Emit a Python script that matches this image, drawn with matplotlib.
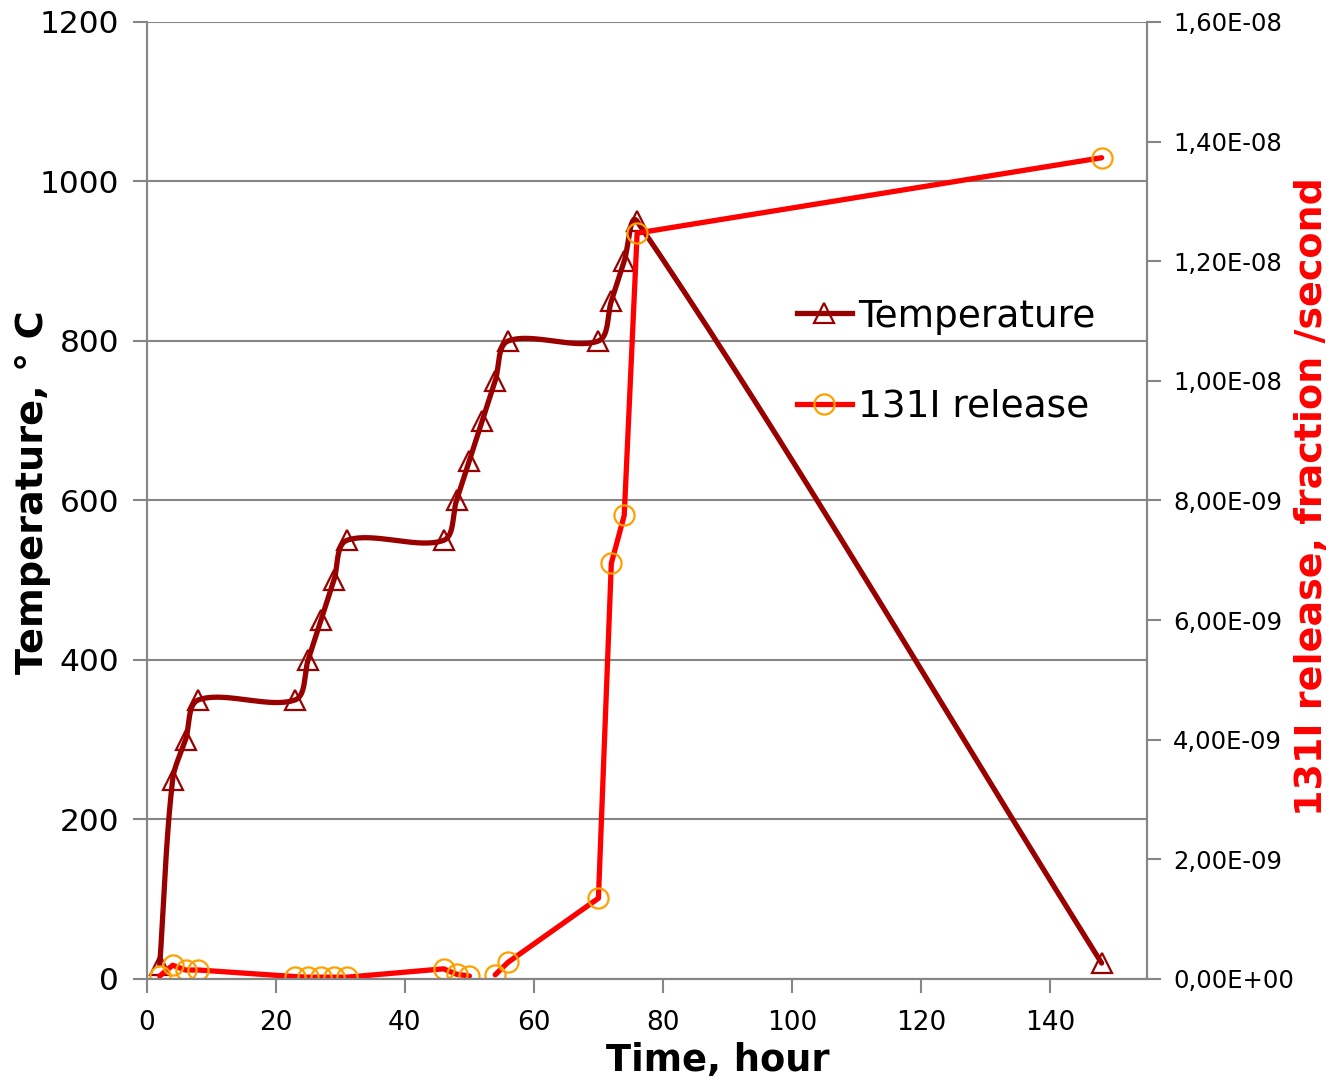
import numpy as np
import matplotlib
matplotlib.use("Agg")
import matplotlib.pyplot as plt
from matplotlib.ticker import FuncFormatter

# data
time_temp = [2, 4, 6, 8, 23, 25, 27, 29, 31, 46, 48, 50, 52, 54, 56, 70, 72, 74, 76, 148]
temperature = [18, 250, 300, 350, 350, 400, 450, 500, 550, 550, 600, 650, 700, 750, 800,
               800, 850, 900, 950, 20]

time_rel = [2, 4, 6, 8, 23, 25, 27, 29, 31, 46, 48, 50, 52, 54, 56, 70, 72, 74, 76, 148]
release = [0.05e-9, 0.23e-9, 0.15e-9, 0.15e-9, 0.04e-9, 0.03e-9, 0.03e-9, 0.03e-9, 0.03e-9,
           0.17e-9, 0.08e-9, 0.05e-9, np.nan, 0.07e-9, 0.28e-9, 1.35e-9, 6.95e-9, 7.75e-9,
           12.47e-9, 13.73e-9]

x_ticks = [0, 20, 40, 60, 80, 100, 120, 140]
y_ticks = [0, 200, 400, 600, 800, 1000, 1200]
y2_ticks = [0, 2e-9, 4e-9, 6e-9, 8e-9, 1e-8, 1.2e-8, 1.4e-8, 1.6e-8]

dark_red = "#990000"
gray = "#868686"


def smooth_line(xs, ys, n=60):
    # smoothed line like a spreadsheet chart: bezier segments, chord weighted tangents
    p = np.column_stack([xs, ys]).astype(float)
    d = np.linalg.norm(np.diff(p, axis=0), axis=1)
    out = []
    for i in range(len(p) - 1):
        b0 = p[i]
        b3 = p[i + 1]
        if i > 0:
            b1 = b0 + (b3 - p[i - 1]) * d[i] / (d[i - 1] + d[i]) / 3
        else:
            b1 = b0 + (b3 - b0) / 3
        if i + 2 < len(p):
            b2 = b3 - (p[i + 2] - b0) * d[i] / (d[i] + d[i + 1]) / 3
        else:
            b2 = b3 - (b3 - b0) / 3
        t = np.linspace(0, 1, n)[:, None]
        seg = (1 - t) ** 3 * b0 + 3 * (1 - t) ** 2 * t * b1 + 3 * (1 - t) * t ** 2 * b2 + t ** 3 * b3
        out.append(seg)
    c = np.vstack(out)
    return c[:, 0], c[:, 1]


fig = plt.figure(figsize=(13.35, 10.82), dpi=100)
ax = fig.add_axes([0.110, 0.0952, 0.749, 0.8845])
ax2 = ax.twinx()

# work in pixel-like units so the curve shape matches the screen
sx, sy = smooth_line(np.array(time_temp) * 6.45, np.array(temperature) * 0.7975)
ax.plot(sx / 6.45, sy / 0.7975, color=dark_red, lw=3.8, solid_capstyle="round", zorder=3)
ax.plot(time_temp, temperature, ls="none", marker="^", ms=14, mfc="none", mec=dark_red,
        mew=1.6, zorder=4)
temp_handle = plt.Line2D([], [], color=dark_red, lw=3.8, marker="^", ms=14, mfc="none",
                         mec=dark_red, mew=1.6)

ax2.plot(time_rel, release, color="#FF0000", lw=3.8, solid_capstyle="round",
         marker="o", ms=14.5, mfc="none", mec="#FFA000", mew=1.6)
rel_handle = plt.Line2D([], [], color="#FF0000", lw=3.8, marker="o", ms=14.5, mfc="none",
                        mec="#FFA000", mew=1.6)

ax.set_xlim(0, 155)
ax.set_ylim(0, 1200)
ax2.set_ylim(0, 1.6e-8)
ax.set_xticks(x_ticks)
ax.set_yticks(y_ticks)
ax2.set_yticks(y2_ticks)
ax2.yaxis.set_major_formatter(FuncFormatter(lambda v, p: ("%.2E" % v).replace(".", ",")))

ax.grid(axis="y", color=gray, lw=1.5)
ax.set_axisbelow(True)
for a in (ax, ax2):
    for s in a.spines.values():
        s.set_color(gray)
        s.set_linewidth(1.5)
    a.spines["top"].set_visible(False)
ax.tick_params(axis="both", colors=gray, width=1.5, length=10, direction="out")
ax2.tick_params(axis="y", colors=gray, width=1.5, length=10, direction="out")
ax.tick_params(axis="y", labelsize=22.5, labelcolor="black", pad=10)
ax.tick_params(axis="x", labelsize=19, labelcolor="black", pad=12)
ax2.tick_params(axis="y", labelsize=17.5, labelcolor="black", pad=9)

fig.text(718 / 1335, 1 - 1060 / 1082, "Time, hour", fontsize=26.5, fontweight="bold",
         ha="center", va="center")
fig.text(33 / 1335, 1 - 492 / 1082, "Temperature, \u00b0 C", fontsize=27.5, fontweight="bold",
         ha="center", va="center", rotation=90)
fig.text(1312 / 1335, 1 - 497 / 1082, "131I release, fraction /second", fontsize=27.4,
         fontweight="bold", color="#FF0000", ha="center", va="center", rotation=90)

ax2.legend([temp_handle, rel_handle], ["Temperature", "131I release"], loc="upper left",
           bbox_to_anchor=(0.65, 0.711), frameon=False, fontsize=27, handlelength=1.47,
           handletextpad=0.16, labelspacing=1.45, borderpad=0, borderaxespad=0)

fig.savefig("out.png", dpi=100)
